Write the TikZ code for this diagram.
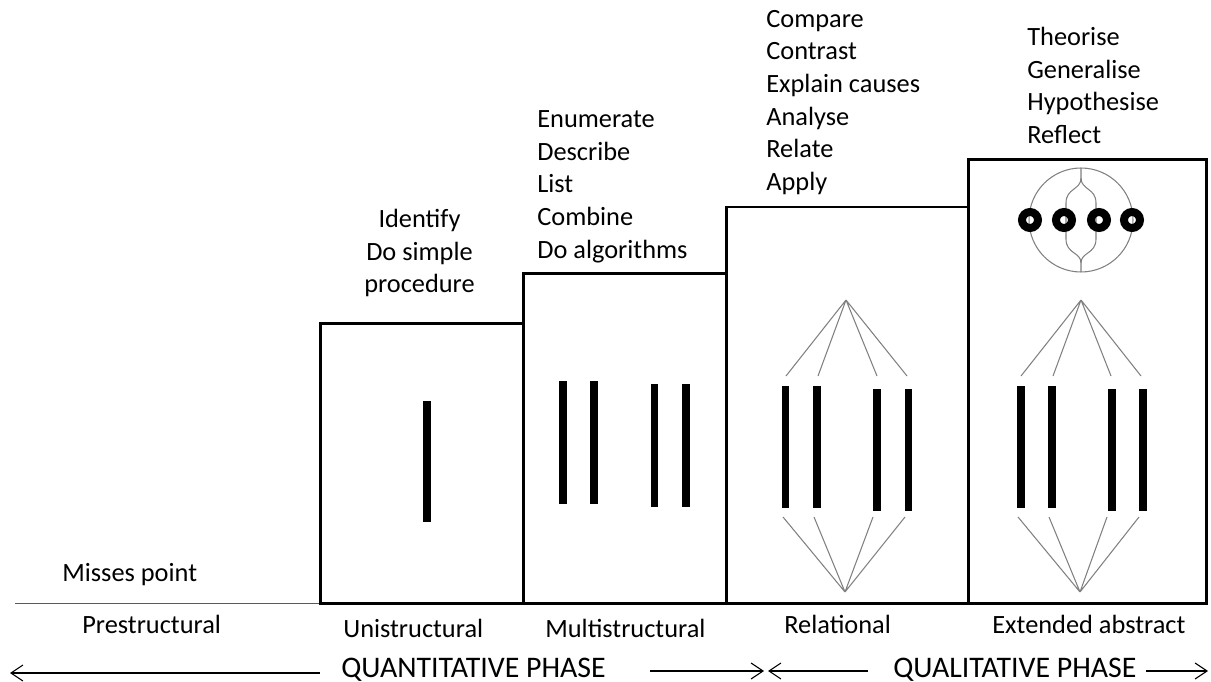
\documentclass[tikz,border=0pt]{standalone}
\usepackage{fontspec}
\setmainfont{Carlito}
\usetikzlibrary{arrows.meta}

\begin{document}
\begin{tikzpicture}[x=0.02cm, y=-0.02cm,
   every node/.style={font=\fontsize{15}{18.6}\selectfont, inner sep=0pt},
   tier/.style={line width=1.7pt, line join=miter},
   verbs/.style={anchor=base west, align=left},
   bar/.style={fill=black},
   fan/.style={draw=gray, line width=0.6pt},
   ring/.style={line width=0.16cm},
   phase/.style={anchor=base west, font=\fontsize{17}{20}\selectfont},
   phasearrow/.style={line width=0.6pt, -{Straight Barb[length=2.4mm,width=3.2mm]}}]

\useasboundingbox (0,0) rectangle (1211,682);

% the staircase
\draw[gray!70!black, line width=0.6pt] (15,603.3) -- (320.7,603.3);
\draw[tier] (320.7,603.3) rectangle (523.3,323.3);
\draw[tier] (523.3,603.3) rectangle (726.7,273.3);
\draw[tier] (726.7,603.3) rectangle (968.3,207);
\draw[tier] (968.3,603.3) rectangle (1206,159.3);

% unistructural
\fill[bar] (422.7,401) rectangle (431,522);

% multistructural
\fill[bar] (559.3,380.7) rectangle (566.7,504);
\fill[bar] (590,380.7) rectangle (598,504);
\fill[bar] (650.7,384) rectangle (658.3,506.7);
\fill[bar] (682.3,384) rectangle (690,506.7);

% relational
\fill[bar] (781.7,386) rectangle (789.3,508);
\fill[bar] (812.7,386) rectangle (820.7,508);
\fill[bar] (873.3,389) rectangle (881.3,511);
\fill[bar] (905,389) rectangle (912.3,511);

\coordinate (reltop) at (846,300);
\coordinate (relbot) at (845,592);
\coordinate (relu1) at (786,376);
\coordinate (relu2) at (818,376);
\coordinate (relu3) at (877,376);
\coordinate (relu4) at (907,376);
\coordinate (reld1) at (783,517);
\coordinate (reld2) at (814,517);
\coordinate (reld3) at (873,517);
\coordinate (reld4) at (905,517);
\draw[fan] (reltop) -- (relu1) (reltop) -- (relu2) (reltop) -- (relu3) (reltop) -- (relu4);
\draw[fan] (relbot) -- (reld1) (relbot) -- (reld2) (relbot) -- (reld3) (relbot) -- (reld4);

% extended abstract
\fill[bar] (1017.3,386) rectangle (1025,508);
\fill[bar] (1047.7,386) rectangle (1055.7,508);
\fill[bar] (1108.3,389) rectangle (1115.7,511);
\fill[bar] (1139,389) rectangle (1146.7,511);

\coordinate (exttop) at (1081,300);
\coordinate (extbot) at (1080,592);
\coordinate (extu1) at (1021,376);
\coordinate (extu2) at (1053,376);
\coordinate (extu3) at (1111,376);
\coordinate (extu4) at (1141,376);
\coordinate (extd1) at (1018,517);
\coordinate (extd2) at (1049,517);
\coordinate (extd3) at (1107,517);
\coordinate (extd4) at (1139,517);
\draw[fan] (exttop) -- (extu1) (exttop) -- (extu2) (exttop) -- (extu3) (exttop) -- (extu4);
\draw[fan] (extbot) -- (extd1) (extbot) -- (extd2) (extbot) -- (extd3) (extbot) -- (extd4);

\coordinate (orb) at (1081,220);
\draw[fan] (orb) circle (1.04cm);
\draw[fan] (1081,168) -- (1081,178) .. controls (1081,190) and (1066,188) .. (1066,203)
   -- (1066,239) .. controls (1066,254) and (1081,252) .. (1081,263) -- (1081,272);
\draw[fan] (1081,178) .. controls (1081,190) and (1096,188) .. (1096,203)
   -- (1096,239) .. controls (1096,254) and (1081,252) .. (1081,263);
\draw[ring] (1030,220) circle (0.16cm);
\draw[ring] (1064,220) circle (0.16cm);
\draw[ring] (1099,220) circle (0.16cm);
\draw[ring] (1132,220) circle (0.16cm);

% verbs (base = last line)
\node[anchor=base, align=center] (univerbs) at (419.5,293) {Identify\\Do simple\\procedure};
\node[verbs] (multiverbs) at (537,258.1) {Enumerate\\Describe\\List\\Combine\\Do algorithms};
\node[verbs] (relverbs) at (766,190.5) {Compare\\Contrast\\Explain causes\\Analyse\\Relate\\Apply};
\node[verbs] (extverbs) at (1027,143.5) {Theorise\\Generalise\\Hypothesise\\Reflect};

% level names
\node[anchor=base west] (misses) at (62,581.7) {Misses point};
\node[anchor=base west] (pre) at (82,633) {Prestructural};
\node[anchor=base west] (uni) at (343,637) {Unistructural};
\node[anchor=base west] (multi) at (545,637) {Multistructural};
\node[anchor=base west] (rel) at (784,633) {Relational};
\node[anchor=base west] (ext) at (992,633) {Extended abstract};

% phases
\node[phase] (quant) at (341,677) {QUANTITATIVE PHASE};
\node[phase] (qual) at (893,677) {QUALITATIVE PHASE};
\coordinate (quantend) at (10,673);
\coordinate (quanttail) at (320,673);
\coordinate (midtail) at (650,671);
\coordinate (midleft) at (764,671);
\coordinate (midright) at (768,671);
\coordinate (qualtail) at (868,671);
\coordinate (rightail) at (1146,671);
\coordinate (qualend) at (1208,671);
\draw[phasearrow] (quanttail) -- (quantend);
\draw[phasearrow] (midtail) -- (midleft);
\draw[phasearrow] (qualtail) -- (midright);
\draw[phasearrow] (rightail) -- (qualend);

\end{tikzpicture}
\end{document}
